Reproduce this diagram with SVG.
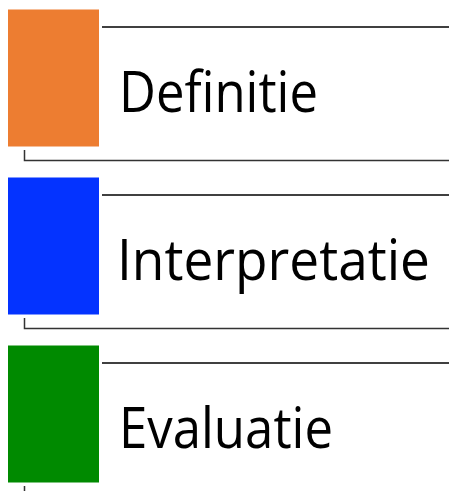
<svg xmlns="http://www.w3.org/2000/svg" width="449" height="491" viewBox="0 0 449 491">
<style>
.ln{stroke:#000;stroke-width:1.3;fill:none}
.br{stroke:#333;stroke-width:1.5;fill:none}
.lbl{font-family:"Open Sans","Noto Sans",sans-serif;font-size:56px;fill:#000}
</style>
<rect width="449" height="491" fill="#fff"/>
<g id="node-definitie">
<rect x="8" y="9.5" width="91" height="137" fill="#ED7D31"/>
<text class="lbl" x="119" y="112" textLength="199" lengthAdjust="spacingAndGlyphs">Definitie</text>
</g>
<g id="node-interpretatie">
<rect x="8" y="177.5" width="91" height="137" fill="#0433FF"/>
<text class="lbl" x="117" y="280" textLength="313" lengthAdjust="spacingAndGlyphs">Interpretatie</text>
</g>
<g id="node-evaluatie">
<rect x="8" y="345.5" width="91" height="137" fill="#008A00"/>
<text class="lbl" x="119" y="448" textLength="214" lengthAdjust="spacingAndGlyphs">Evaluatie</text>
</g>
<g id="connectors">
<line class="ln" x1="102" y1="27" x2="449" y2="27"/>
<line class="ln" x1="102" y1="195" x2="449" y2="195"/>
<line class="ln" x1="102" y1="363" x2="449" y2="363"/>
<polyline class="br" points="24.5,150 24.5,160.5 449,160.5"/>
<polyline class="br" points="24.5,318 24.5,328.5 449,328.5"/>
<polyline class="br" points="24.5,486 24.5,496.5 449,496.5"/>
</g>
</svg>
